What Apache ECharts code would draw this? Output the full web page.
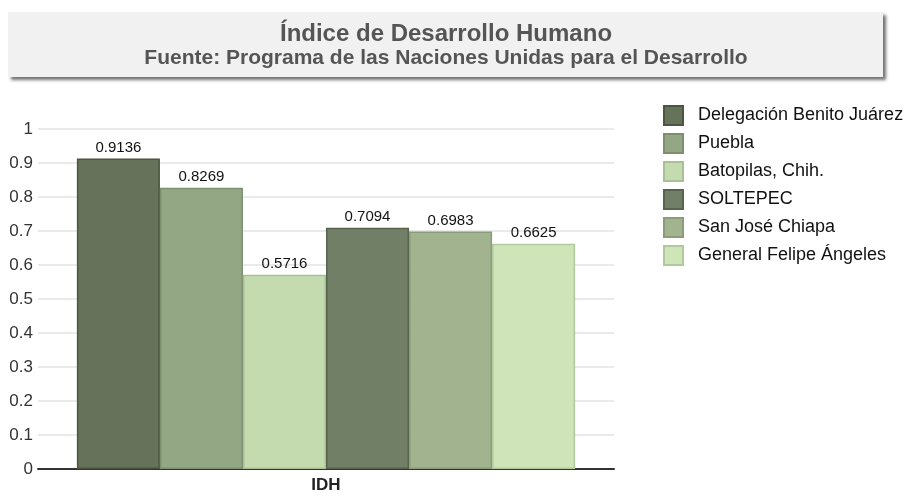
<!DOCTYPE html>
<html>
<head>
<meta charset="utf-8">
<script src="https://cdn.jsdelivr.net/npm/echarts@6/dist/echarts.min.js"></script>
<style>
  html, body { margin: 0; padding: 0; background: #fff; }
  #chart { width: 903px; height: 502px; }
</style>
</head>
<body>
<div id="chart"></div>
<script>
// datos
const categories = ['IDH'];
const names = ['Delegación Benito Juárez', 'Puebla', 'Batopilas, Chih.', 'SOLTEPEC', 'San José Chiapa', 'General Felipe Ángeles'];
const values = [0.9136, 0.8269, 0.5716, 0.7094, 0.6983, 0.6625];
const yTicks = [0, 0.1, 0.2, 0.3, 0.4, 0.5, 0.6, 0.7, 0.8, 0.9, 1];

const fills = ['#66725a', '#94a785', '#c4dbaf', '#727f67', '#a2b38f', '#cfe4b8'];
const borders = ['#4b5542', '#7d8f6f', '#a9c095', '#58634e', '#8a9c78', '#b2c99c'];
const font = '"Liberation Sans", Arial, sans-serif';

const chart = echarts.init(document.getElementById('chart'));

const series = names.map((n, i) => ({
  name: n,
  type: 'bar',
  data: [values[i]],
  barGap: '0%',
  barCategoryGap: '13.5%',
  itemStyle: { color: fills[i], borderColor: borders[i], borderWidth: 1.5 },
  label: {
    show: true, position: 'top', distance: 3,
    color: '#111', fontSize: 15, fontFamily: font,
    formatter: p => p.value.toFixed(4)
  }
}));

chart.setOption({
  animation: false,
  graphic: [
    {
      type: 'rect', left: 8, top: 12,
      shape: { width: 875, height: 65 },
      style: { fill: '#f1f1f1', shadowBlur: 3, shadowOffsetX: 3, shadowOffsetY: 3, shadowColor: 'rgba(0,0,0,0.55)' }
    },
    {
      type: 'text', x: 446, y: 34, z: 10,
      style: { text: 'Índice de Desarrollo Humano', fill: '#555', font: 'bold 24px ' + font,
        textAlign: 'center', textVerticalAlign: 'middle' }
    },
    {
      type: 'text', x: 446, y: 58, z: 10,
      style: { text: 'Fuente: Programa de las Naciones Unidas para el Desarrollo', fill: '#555', font: 'bold 21px ' + font,
        textAlign: 'center', textVerticalAlign: 'middle' }
    }
  ],
  legend: {
    orient: 'vertical', left: 663, top: 105, padding: 0,
    icon: 'rect',
    itemWidth: 19, itemHeight: 19, itemGap: 7,
    textStyle: { color: '#111', fontSize: 18, fontFamily: font, padding: [0, 0, 0, 10] },
    data: names
  },
  grid: { left: 38, right: 289, top: 129, bottom: 33 },
  xAxis: {
    type: 'category', data: categories,
    axisLine: { show: true, lineStyle: { color: '#333', width: 2 } },
    axisTick: { show: false },
    axisLabel: { color: '#222', fontSize: 17, fontWeight: 'bold', fontFamily: font, margin: 8 }
  },
  yAxis: {
    type: 'value', min: yTicks[0], max: yTicks[yTicks.length - 1], interval: 0.1,
    axisLine: { show: false },
    axisTick: { show: false },
    axisLabel: { color: '#333', fontSize: 17, fontFamily: font, margin: 5,
      formatter: v => String(Math.round(v * 10) / 10) },
    splitLine: { lineStyle: { color: '#e3e3e3', width: 1.5 } }
  },
  series: series
});
</script>
</body>
</html>
